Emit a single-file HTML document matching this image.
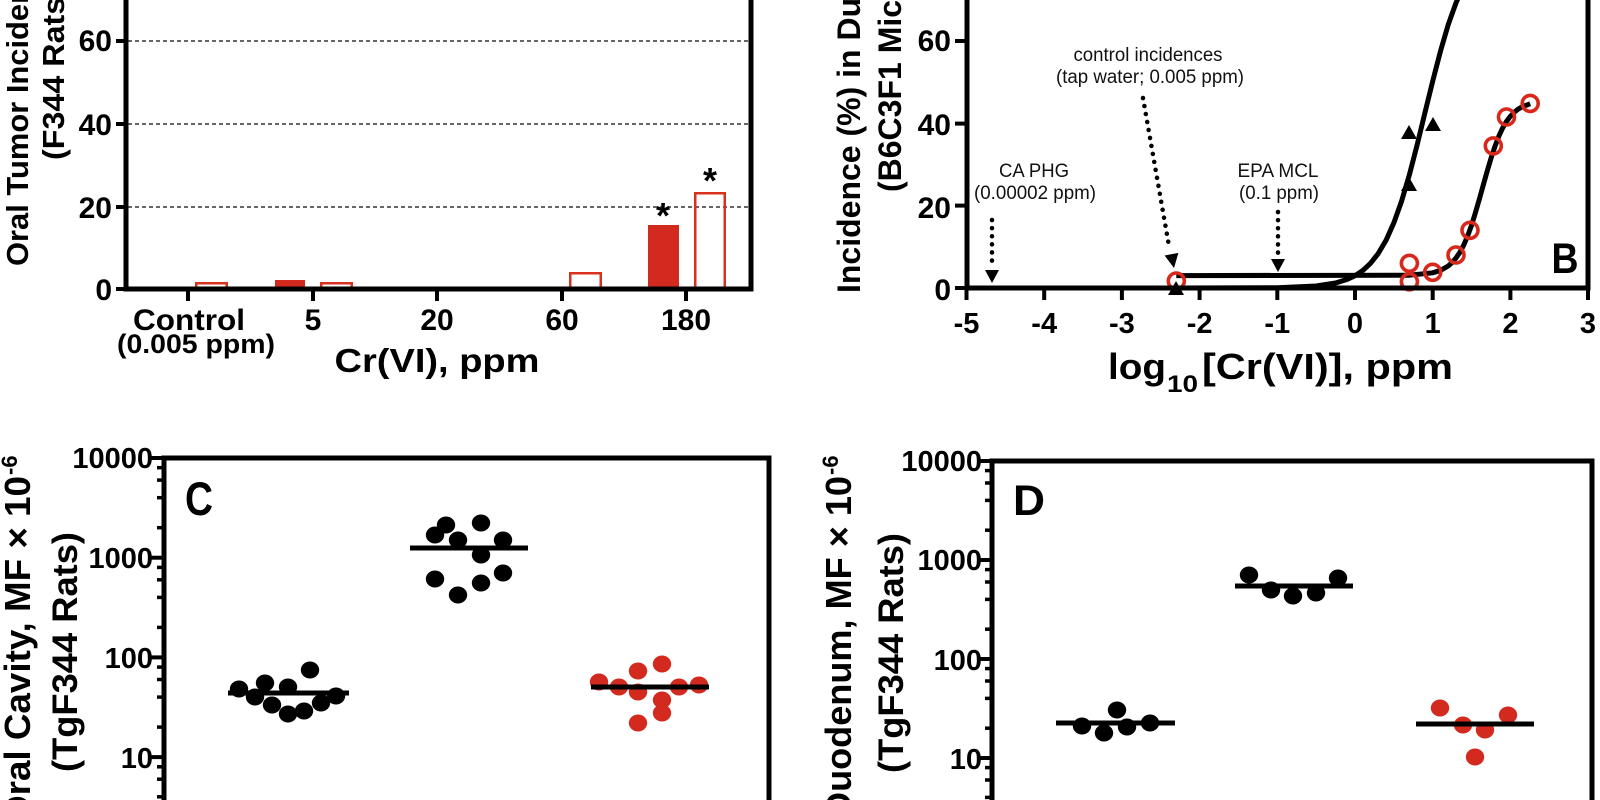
<!DOCTYPE html>
<html>
<head>
<meta charset="utf-8">
<style>
  html,body{margin:0;padding:0;background:#fff;}
  svg{display:block;}
  text{font-family:"Liberation Sans",Arial,sans-serif;}
</style>
</head>
<body>
<svg width="1600" height="800" viewBox="0 0 1600 800" xmlns="http://www.w3.org/2000/svg">
<rect width="1600" height="800" fill="#fff"/>

<!-- ================= PANEL A ================= -->
<g stroke="#333" stroke-width="1.4" stroke-dasharray="4 3">
  <line x1="128" y1="41" x2="749" y2="41"/>
  <line x1="128" y1="124" x2="749" y2="124"/>
  <line x1="128" y1="207" x2="749" y2="207"/>
</g>
<g fill="#d32a1f">
  <rect x="275" y="280" width="30" height="8"/>
  <rect x="648" y="225" width="31" height="63"/>
</g>
<g fill="none" stroke="#d8321f" stroke-width="2.5">
  <rect x="196.25" y="283.25" width="30.5" height="6"/>
  <rect x="321.25" y="283.25" width="30.5" height="6"/>
  <rect x="570.25" y="273.25" width="30.5" height="16"/>
  <rect x="695.25" y="193.25" width="29.5" height="96"/>
</g>
<g font-weight="bold" font-size="36" text-anchor="middle" fill="#000">
  <text x="663" y="228">*</text>
  <text x="710" y="193">*</text>
</g>
<g stroke="#000" stroke-width="5" fill="none">
  <line x1="126" y1="0" x2="126" y2="291.5"/>
  <line x1="123.5" y1="289" x2="753.5" y2="289"/>
  <line x1="751" y1="0" x2="751" y2="291.5"/>
</g>
<g stroke="#000" stroke-width="4">
  <line x1="116" y1="41" x2="126" y2="41"/>
  <line x1="116" y1="124" x2="126" y2="124"/>
  <line x1="116" y1="207" x2="126" y2="207"/>
  <line x1="116" y1="289" x2="126" y2="289"/>
  <line x1="188" y1="289" x2="188" y2="301"/>
  <line x1="313" y1="289" x2="313" y2="301"/>
  <line x1="437" y1="289" x2="437" y2="301"/>
  <line x1="562" y1="289" x2="562" y2="301"/>
  <line x1="686" y1="289" x2="686" y2="301"/>
</g>
<g font-weight="bold" font-size="30" fill="#000">
  <g text-anchor="end">
    <text x="112" y="51">60</text>
    <text x="112" y="135">40</text>
    <text x="112" y="218">20</text>
    <text x="112" y="300">0</text>
  </g>
  <g text-anchor="middle">
    <text x="189" y="330" textLength="112" lengthAdjust="spacingAndGlyphs">Control</text>
    <text x="196" y="353" font-size="27" textLength="158" lengthAdjust="spacingAndGlyphs">(0.005 ppm)</text>
    <text x="313" y="330">5</text>
    <text x="437" y="330">20</text>
    <text x="562" y="330">60</text>
    <text x="686" y="330">180</text>
    <text x="437" y="372" font-size="33" textLength="205" lengthAdjust="spacingAndGlyphs">Cr(VI), ppm</text>
  </g>
  <text transform="translate(28,266) rotate(-90)" font-size="31" textLength="372" lengthAdjust="spacingAndGlyphs">Oral Tumor Incidence (%)</text>
  <text transform="translate(64,160) rotate(-90)" font-size="31" textLength="174" lengthAdjust="spacingAndGlyphs">(F344 Rats)</text>
</g>

<!-- ================= PANEL B ================= -->
<g font-size="19" fill="#111" text-anchor="middle">
  <text x="1148" y="61" textLength="149" lengthAdjust="spacingAndGlyphs">control incidences</text>
  <text x="1150" y="83" textLength="188" lengthAdjust="spacingAndGlyphs">(tap water; 0.005 ppm)</text>
  <text x="1034" y="177" textLength="70" lengthAdjust="spacingAndGlyphs">CA PHG</text>
  <text x="1035" y="199" textLength="122" lengthAdjust="spacingAndGlyphs">(0.00002 ppm)</text>
  <text x="1278" y="177" textLength="81" lengthAdjust="spacingAndGlyphs">EPA MCL</text>
  <text x="1279" y="199" textLength="80" lengthAdjust="spacingAndGlyphs">(0.1 ppm)</text>
</g>
<g stroke="#000" stroke-width="4.5" stroke-linecap="round" stroke-dasharray="0.1 8" fill="none">
  <line x1="992" y1="220" x2="992" y2="266"/>
  <line x1="1278" y1="212" x2="1278" y2="256"/>
  <line x1="1143" y1="98" x2="1169" y2="246"/>
</g>
<g fill="#000">
  <polygon points="985,270 999,270 992,283"/>
  <polygon points="1271,259 1285,259 1278,272"/>
  <polygon points="1178.4,252.9 1164.6,255.5 1174,268"/>
</g>
<g fill="none" stroke="#000" stroke-width="5" stroke-linejoin="round">
  <polyline points="1176.3,288 1277.3,287.7 1316.2,286 1335.6,283 1347.2,279.4 1355,275.7 1362.8,270.5 1370.5,263.3 1378.3,253.4 1386.1,240.2 1393.9,222.7 1401.6,201.1 1409.4,174.7 1417.2,144.6 1424.9,112.9 1432.7,81.2 1440.5,51.1 1448.2,24.7 1456,2.9 1463.8,-14.4"/>
  <polyline points="1176.3,275.6 1409.4,275.2 1432.7,272.8 1440.5,270.4 1448.2,266 1452.1,262.5 1456,258 1459.9,252.3 1463.8,244.9 1467.7,235.8 1471.6,225.1 1475.4,212.8 1479.3,199.3 1483.2,185.3 1487.1,171.4 1491,158.3 1494.9,146.5 1498.7,136.5 1502.6,128.1 1506.5,121.4 1510.4,116.2 1514.3,112.2 1518.2,109.1 1522.1,106.8 1530.2,103.8"/>
</g>
<g fill="#000">
  <polygon points="1168,295 1184,295 1176,281"/>
  <polygon points="1401,191 1417,191 1409,177"/>
  <polygon points="1401,139 1417,139 1409,125"/>
  <polygon points="1425,131 1441,131 1433,117"/>
</g>
<g fill="none" stroke="#d8281c" stroke-width="3.6">
  <circle cx="1176.3" cy="281" r="8"/>
  <circle cx="1409.4" cy="263.3" r="8"/>
  <circle cx="1409.4" cy="281.8" r="8"/>
  <circle cx="1432.7" cy="272.3" r="8"/>
  <circle cx="1456" cy="255" r="8"/>
  <circle cx="1470" cy="230.3" r="8"/>
  <circle cx="1493.3" cy="145.9" r="8"/>
  <circle cx="1506.5" cy="117" r="8"/>
  <circle cx="1530.2" cy="103.4" r="8"/>
</g>
<g stroke="#000" stroke-width="5" fill="none">
  <line x1="967" y1="0" x2="967" y2="290.5"/>
  <line x1="964.5" y1="288" x2="1590.5" y2="288"/>
  <line x1="1588" y1="0" x2="1588" y2="290.5"/>
</g>
<g stroke="#000" stroke-width="4">
  <line x1="955" y1="41" x2="967" y2="41"/>
  <line x1="955" y1="123.6" x2="967" y2="123.6"/>
  <line x1="955" y1="205.6" x2="967" y2="205.6"/>
  <line x1="955" y1="288" x2="967" y2="288"/>
  <line x1="966.5" y1="288" x2="966.5" y2="300"/>
  <line x1="1044.2" y1="288" x2="1044.2" y2="300"/>
  <line x1="1121.9" y1="288" x2="1121.9" y2="300"/>
  <line x1="1199.6" y1="288" x2="1199.6" y2="300"/>
  <line x1="1277.3" y1="288" x2="1277.3" y2="300"/>
  <line x1="1355" y1="288" x2="1355" y2="300"/>
  <line x1="1432.7" y1="288" x2="1432.7" y2="300"/>
  <line x1="1510.4" y1="288" x2="1510.4" y2="300"/>
  <line x1="1588" y1="288" x2="1588" y2="300"/>
</g>
<g font-weight="bold" fill="#000">
  <g text-anchor="end" font-size="30">
    <text x="951" y="51">60</text>
    <text x="951" y="135">40</text>
    <text x="951" y="218">20</text>
    <text x="951" y="300">0</text>
  </g>
  <g text-anchor="middle" font-size="29">
    <text x="966.5" y="333">-5</text>
    <text x="1044.2" y="333">-4</text>
    <text x="1121.9" y="333">-3</text>
    <text x="1199.6" y="333">-2</text>
    <text x="1277.3" y="333">-1</text>
    <text x="1355" y="333">0</text>
    <text x="1432.7" y="333">1</text>
    <text x="1510.4" y="333">2</text>
    <text x="1588" y="333">3</text>
  </g>
  <text x="1108" y="379" font-size="36" textLength="58" lengthAdjust="spacingAndGlyphs">log</text>
  <text x="1167" y="392" font-size="24" textLength="31" lengthAdjust="spacingAndGlyphs">10</text>
  <text x="1202" y="379" font-size="36" textLength="251" lengthAdjust="spacingAndGlyphs">[Cr(VI)], ppm</text>
  <text x="1565" y="273" font-size="43" text-anchor="middle" textLength="27" lengthAdjust="spacingAndGlyphs">B</text>
  <text transform="translate(860,293) rotate(-90)" font-size="32">Incidence (%) in Duodenum</text>
  <text transform="translate(901,192) rotate(-90)" font-size="32">(B6C3F1 Mice)</text>
</g>

<!-- ================= PANEL C ================= -->
<g fill="#000">
  <ellipse cx="239" cy="689" rx="9.2" ry="8.5"/>
  <ellipse cx="255" cy="697" rx="9.2" ry="8.5"/>
  <ellipse cx="265" cy="683" rx="9.2" ry="8.5"/>
  <ellipse cx="272" cy="705" rx="9.2" ry="8.5"/>
  <ellipse cx="288" cy="687" rx="9.2" ry="8.5"/>
  <ellipse cx="288" cy="714" rx="9.2" ry="8.5"/>
  <ellipse cx="304" cy="711" rx="9.2" ry="8.5"/>
  <ellipse cx="310" cy="670" rx="9.2" ry="8.5"/>
  <ellipse cx="321" cy="703" rx="9.2" ry="8.5"/>
  <ellipse cx="336" cy="696" rx="9.2" ry="8.5"/>

  <ellipse cx="435" cy="535" rx="9.2" ry="8.5"/>
  <ellipse cx="446" cy="525" rx="9.2" ry="8.5"/>
  <ellipse cx="458" cy="540" rx="9.2" ry="8.5"/>
  <ellipse cx="481" cy="523" rx="9.2" ry="8.5"/>
  <ellipse cx="503" cy="540" rx="9.2" ry="8.5"/>
  <ellipse cx="481" cy="555" rx="9.2" ry="8.5"/>
  <ellipse cx="435" cy="579" rx="9.2" ry="8.5"/>
  <ellipse cx="481" cy="583" rx="9.2" ry="8.5"/>
  <ellipse cx="503" cy="573" rx="9.2" ry="8.5"/>
  <ellipse cx="458" cy="595" rx="9.2" ry="8.5"/>
</g>
<g fill="#d32a1f">
  <ellipse cx="599" cy="682" rx="9.2" ry="8.5"/>
  <ellipse cx="619" cy="687" rx="9.2" ry="8.5"/>
  <ellipse cx="638" cy="671" rx="9.2" ry="8.5"/>
  <ellipse cx="662" cy="664" rx="9.2" ry="8.5"/>
  <ellipse cx="638" cy="692" rx="9.2" ry="8.5"/>
  <ellipse cx="662" cy="700" rx="9.2" ry="8.5"/>
  <ellipse cx="679" cy="687" rx="9.2" ry="8.5"/>
  <ellipse cx="699" cy="685" rx="9.2" ry="8.5"/>
  <ellipse cx="662" cy="713" rx="9.2" ry="8.5"/>
  <ellipse cx="638" cy="723" rx="9.2" ry="8.5"/>
</g>
<g stroke="#000" stroke-width="5">
  <line x1="228" y1="693" x2="349" y2="693"/>
  <line x1="410" y1="548" x2="528" y2="548"/>
  <line x1="591" y1="687" x2="709" y2="687"/>
</g>
<path d="M164,810 L164,458 L769,458 L769,810" fill="none" stroke="#000" stroke-width="5"/>
<g stroke="#000" stroke-width="4">
  <line x1="151" y1="458" x2="164" y2="458"/>
  <line x1="151" y1="557.7" x2="164" y2="557.7"/>
  <line x1="151" y1="657.4" x2="164" y2="657.4"/>
  <line x1="151" y1="757.1" x2="164" y2="757.1"/>
</g>
<g stroke="#000" stroke-width="3.5">
  <line x1="157" y1="467.7" x2="164" y2="467.7"/>
  <line x1="157" y1="480.1" x2="164" y2="480.1"/>
  <line x1="157" y1="497.7" x2="164" y2="497.7"/>
  <line x1="157" y1="527.7" x2="164" y2="527.7"/>
  <line x1="157" y1="567.4" x2="164" y2="567.4"/>
  <line x1="157" y1="579.8" x2="164" y2="579.8"/>
  <line x1="157" y1="597.4" x2="164" y2="597.4"/>
  <line x1="157" y1="627.4" x2="164" y2="627.4"/>
  <line x1="157" y1="667.1" x2="164" y2="667.1"/>
  <line x1="157" y1="679.5" x2="164" y2="679.5"/>
  <line x1="157" y1="697.1" x2="164" y2="697.1"/>
  <line x1="157" y1="727.1" x2="164" y2="727.1"/>
  <line x1="157" y1="766.8" x2="164" y2="766.8"/>
  <line x1="157" y1="779.2" x2="164" y2="779.2"/>
  <line x1="157" y1="796.8" x2="164" y2="796.8"/>
</g>
<g font-weight="bold" fill="#000">
  <g text-anchor="end" font-size="29">
    <text x="153" y="468">10000</text>
    <text x="153" y="568">1000</text>
    <text x="153" y="668">100</text>
    <text x="153" y="768">10</text>
  </g>
  <text x="199" y="515" font-size="47" text-anchor="middle" textLength="28" lengthAdjust="spacingAndGlyphs">C</text>
  <text transform="translate(30,824) rotate(-90)" font-size="36" textLength="348" lengthAdjust="spacingAndGlyphs">Oral Cavity, MF × 10</text>
  <text transform="translate(17,475) rotate(-90)" font-size="22">-6</text>
  <text transform="translate(77,652) rotate(-90)" font-size="35" text-anchor="middle" textLength="240" lengthAdjust="spacingAndGlyphs">(TgF344 Rats)</text>
</g>

<!-- ================= PANEL D ================= -->
<g fill="#000">
  <ellipse cx="1082" cy="726" rx="9.2" ry="8.5"/>
  <ellipse cx="1104" cy="733" rx="9.2" ry="8.5"/>
  <ellipse cx="1117" cy="710" rx="9.2" ry="8.5"/>
  <ellipse cx="1127" cy="727" rx="9.2" ry="8.5"/>
  <ellipse cx="1150" cy="723" rx="9.2" ry="8.5"/>

  <ellipse cx="1249" cy="575" rx="9.2" ry="8.5"/>
  <ellipse cx="1271" cy="590" rx="9.2" ry="8.5"/>
  <ellipse cx="1293" cy="596" rx="9.2" ry="8.5"/>
  <ellipse cx="1316" cy="593" rx="9.2" ry="8.5"/>
  <ellipse cx="1338" cy="578" rx="9.2" ry="8.5"/>
</g>
<g fill="#d32a1f">
  <ellipse cx="1440" cy="708" rx="9.2" ry="8.5"/>
  <ellipse cx="1463" cy="725" rx="9.2" ry="8.5"/>
  <ellipse cx="1485" cy="730" rx="9.2" ry="8.5"/>
  <ellipse cx="1508" cy="715" rx="9.2" ry="8.5"/>
  <ellipse cx="1475" cy="757" rx="9.2" ry="8.5"/>
</g>
<g stroke="#000" stroke-width="5">
  <line x1="1056" y1="723" x2="1175" y2="723"/>
  <line x1="1235" y1="586" x2="1353" y2="586"/>
  <line x1="1416" y1="724" x2="1534" y2="724"/>
</g>
<path d="M992,810 L992,461 L1592,461 L1592,810" fill="none" stroke="#000" stroke-width="5"/>
<g stroke="#000" stroke-width="4">
  <line x1="979" y1="461" x2="992" y2="461"/>
  <line x1="979" y1="560" x2="992" y2="560"/>
  <line x1="979" y1="659" x2="992" y2="659"/>
  <line x1="979" y1="758" x2="992" y2="758"/>
</g>
<g stroke="#000" stroke-width="3.5">
  <line x1="985" y1="470.6" x2="992" y2="470.6"/>
  <line x1="985" y1="483" x2="992" y2="483"/>
  <line x1="985" y1="500.4" x2="992" y2="500.4"/>
  <line x1="985" y1="530.2" x2="992" y2="530.2"/>
  <line x1="985" y1="569.6" x2="992" y2="569.6"/>
  <line x1="985" y1="582" x2="992" y2="582"/>
  <line x1="985" y1="599.4" x2="992" y2="599.4"/>
  <line x1="985" y1="629.2" x2="992" y2="629.2"/>
  <line x1="985" y1="668.6" x2="992" y2="668.6"/>
  <line x1="985" y1="681" x2="992" y2="681"/>
  <line x1="985" y1="698.4" x2="992" y2="698.4"/>
  <line x1="985" y1="728.2" x2="992" y2="728.2"/>
  <line x1="985" y1="767.6" x2="992" y2="767.6"/>
  <line x1="985" y1="780" x2="992" y2="780"/>
  <line x1="985" y1="797.4" x2="992" y2="797.4"/>
</g>
<g font-weight="bold" fill="#000">
  <g text-anchor="end" font-size="29">
    <text x="982" y="471">10000</text>
    <text x="982" y="570">1000</text>
    <text x="982" y="670">100</text>
    <text x="982" y="769">10</text>
  </g>
  <text x="1029" y="515" font-size="43" text-anchor="middle" textLength="32" lengthAdjust="spacingAndGlyphs">D</text>
  <text transform="translate(851,818) rotate(-90)" font-size="36" textLength="342" lengthAdjust="spacingAndGlyphs">Duodenum, MF × 10</text>
  <text transform="translate(838,475) rotate(-90)" font-size="22">-6</text>
  <text transform="translate(903,653) rotate(-90)" font-size="35" text-anchor="middle" textLength="240" lengthAdjust="spacingAndGlyphs">(TgF344 Rats)</text>
</g>
</svg>
</body>
</html>
